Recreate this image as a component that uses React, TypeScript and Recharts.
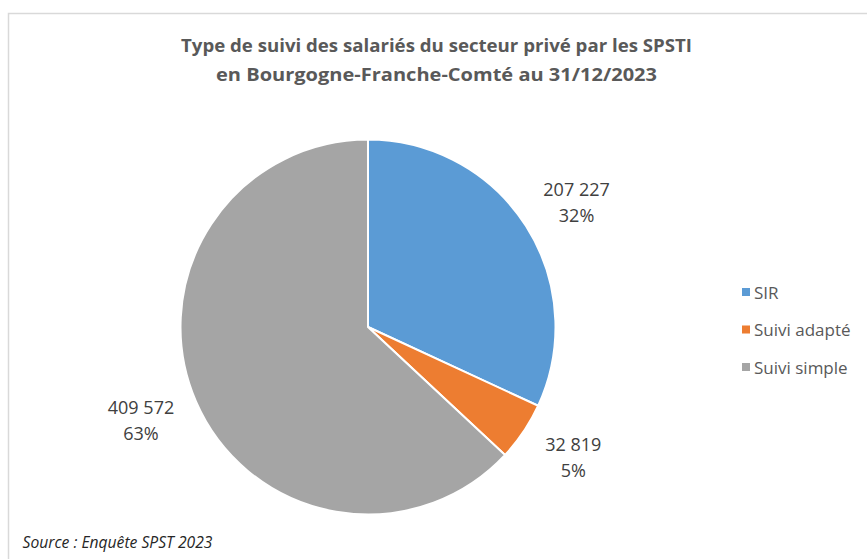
import React from 'react';
import { PieChart, Pie, Cell, Legend } from 'recharts';

const categories = ['SIR', 'Suivi adapté', 'Suivi simple'];
const values = [207227, 32819, 409572];
const percentLabels = ['32%', '5%', '63%'];
const colors = ['#5B9BD5', '#ED7D31', '#A5A5A5'];
const titleLines = [
  'Type de suivi des salariés du secteur privé par les SPSTI',
  'en Bourgogne-Franche-Comté au 31/12/2023',
];
const sourceText = 'Source : Enquête SPST 2023';

const data = categories.map((name, i) => ({ name, value: values[i], pct: percentLabels[i] }));

const FONT = '"Open Sans", "Noto Sans", sans-serif';
const RADIAN = Math.PI / 180;

const fmt = (v: number) => String(v).replace(/\B(?=(\d{3})+(?!\d))/g, ' ');

const renderLabel = (props: any) => {
  const { cx, cy, midAngle, outerRadius, index } = props;
  const rx = outerRadius + 60;
  const ry = outerRadius + 45;
  const x = cx + rx * Math.cos(-midAngle * RADIAN);
  const y = cy + ry * Math.sin(-midAngle * RADIAN);
  const d = data[index];
  return (
    <text x={x} y={y} textAnchor="middle" fill="#404040" fontFamily={FONT} fontSize={18}>
      <tspan x={x} y={y - 6}>{fmt(d.value)}</tspan>
      <tspan x={x} y={y + 20}>{d.pct}</tspan>
    </text>
  );
};

const renderLegend = () => (
  <svg width={130} height={110} style={{ display: 'block' }}>
    {categories.map((c, i) => (
      <g key={c}>
        <rect x={5} y={10 + i * 37.5} width={8} height={8} fill={colors[i]} />
        <text x={17} y={20.5 + i * 37.5} fill="#595959" fontFamily={FONT} fontSize={17}>
          {c}
        </text>
      </g>
    ))}
  </svg>
);

export default function App() {
  return (
    <div style={{ position: 'absolute', left: 0, top: 0, width: 867, height: 559, background: '#fff' }}>
      <svg width={867} height={559} style={{ position: 'absolute', left: 0, top: 0 }}>
        <rect x={8.5} y={13.5} width={900} height={600} fill="#fff" stroke="#D9D9D9" strokeWidth={1.5} />
        <text x={436.5} y={52} textAnchor="middle" fill="#595959" fontFamily={FONT} fontWeight="bold" fontSize={18.5}
          textLength={511} lengthAdjust="spacingAndGlyphs">{titleLines[0]}</text>
        <text x={436.5} y={81} textAnchor="middle" fill="#595959" fontFamily={FONT} fontWeight="bold" fontSize={18.5}
          textLength={441} lengthAdjust="spacingAndGlyphs">{titleLines[1]}</text>
        <text x={22.5} y={548} fill="#262626" fontFamily={FONT} fontStyle="italic" fontSize={17}
          textLength={190} lengthAdjust="spacingAndGlyphs">{sourceText}</text>
      </svg>
      <div style={{ position: 'absolute', left: 0, top: 0 }}>
        <PieChart width={867} height={559} margin={{ top: 0, right: 0, bottom: 0, left: 0 }}>
          <Pie
            data={data}
            dataKey="value"
            nameKey="name"
            cx={368}
            cy={327}
            outerRadius={187.5}
            startAngle={90}
            endAngle={-270}
            stroke="#fff"
            strokeWidth={2}
            label={renderLabel}
            labelLine={false}
            isAnimationActive={false}
          >
            {data.map((d, i) => (
              <Cell key={d.name} fill={colors[i]} />
            ))}
          </Pie>
          <Legend
            content={renderLegend}
            wrapperStyle={{ position: 'absolute', left: 737, top: 278, width: 130, height: 110 }}
          />
        </PieChart>
      </div>
    </div>
  );
}
